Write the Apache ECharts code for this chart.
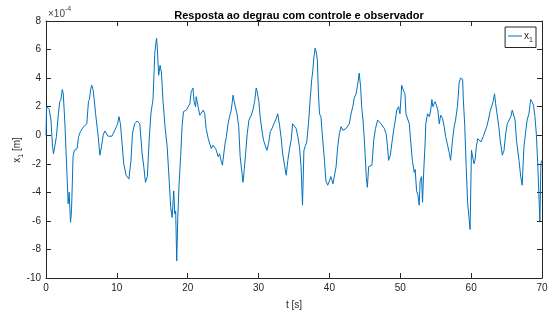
<!DOCTYPE html>
<html>
<head>
<meta charset="utf-8">
<script src="https://cdn.jsdelivr.net/npm/echarts@6/dist/echarts.min.js"></script>
<style>
  html, body { margin: 0; padding: 0; background: #fff; }
  #main { width: 548px; height: 315px; }
</style>
</head>
<body>
<div id="main"></div>
<script>
// time [s] and x1 response (in units of 1e-4 m)
let tData = [0, 0.08, 0.23, 0.46, 0.7, 0.92, 1.06, 1.24, 1.47, 1.75, 1.94, 2.1, 2.3, 2.44, 2.67, 2.9, 3.13, 3.27, 3.46, 3.6, 3.82, 4.0, 4.15, 4.38, 4.6, 4.84, 5.07, 5.3, 5.5, 5.76, 5.99, 6.13, 6.3, 6.45, 6.64, 6.8, 7.0, 7.19, 7.37, 7.6, 7.83, 8.06, 8.3, 8.5, 8.76, 8.99, 9.3, 9.7, 9.95, 10.1, 10.3, 10.5, 10.7, 10.97, 11.3, 11.5, 11.7, 12.0, 12.2, 12.5, 12.87, 13.24, 13.57, 13.8, 14.04, 14.3, 14.56, 14.8, 15.1, 15.36, 15.6, 15.7, 15.9, 16.1, 16.3, 16.5, 16.8, 17.1, 17.4, 17.6, 17.8, 18.03, 18.17, 18.3, 18.45, 18.6, 18.78, 19.0, 19.2, 19.4, 19.8, 20.05, 20.3, 20.5, 20.75, 20.9, 21.1, 21.2, 21.46, 21.7, 21.9, 22.2, 22.4, 22.6, 22.9, 23.1, 23.33, 23.57, 23.76, 23.95, 24.13, 24.3, 24.5, 24.7, 24.9, 25.07, 25.26, 25.45, 25.7, 25.9, 26.15, 26.4, 26.5, 26.76, 26.95, 27.2, 27.4, 27.65, 27.8, 27.98, 28.17, 28.4, 28.64, 28.97, 29.2, 29.44, 29.67, 29.8, 30.05, 30.2, 30.47, 30.7, 30.94, 31.17, 31.4, 31.65, 31.9, 32.16, 32.5, 32.7, 32.96, 33.2, 33.4, 33.7, 33.9, 34.13, 34.37, 34.6, 34.8, 35.07, 35.3, 35.54, 35.77, 36.0, 36.2, 36.4, 36.57, 36.8, 37.04, 37.28, 37.5, 37.65, 37.8, 37.98, 38.17, 38.3, 38.45, 38.6, 38.8, 39.06, 39.3, 39.5, 39.76, 40.0, 40.2, 40.5, 40.7, 40.94, 41.17, 41.4, 41.64, 41.9, 42.1, 42.35, 42.6, 42.8, 43.05, 43.3, 43.5, 43.76, 44.0, 44.2, 44.4, 44.55, 44.74, 44.93, 45.2, 45.35, 45.54, 45.8, 46.0, 46.25, 46.5, 46.8, 47.0, 47.3, 47.5, 47.75, 48.0, 48.2, 48.35, 48.6, 48.8, 49.06, 49.3, 49.5, 49.76, 49.95, 50.1, 50.2, 50.4, 50.66, 50.8, 51.0, 51.27, 51.5, 51.7, 51.97, 52.1, 52.3, 52.5, 52.67, 52.8, 53.0, 53.14, 53.3, 53.5, 53.6, 53.85, 54.1, 54.3, 54.46, 54.6, 54.9, 55.1, 55.3, 55.5, 55.7, 55.96, 56.2, 56.4, 56.67, 56.9, 57.1, 57.37, 57.6, 57.8, 58.07, 58.3, 58.5, 58.8, 58.9, 59.1, 59.3, 59.5, 59.7, 59.85, 60.04, 60.2, 60.4, 60.55, 60.74, 60.93, 61.16, 61.4, 61.7, 61.96, 62.2, 62.43, 62.67, 62.9, 63.1, 63.3, 63.46, 63.65, 63.9, 64.1, 64.4, 64.64, 64.87, 65.1, 65.34, 65.6, 65.8, 66.0, 66.2, 66.4, 66.75, 67.0, 67.2, 67.45, 67.7, 67.9, 68.15, 68.4, 68.6, 68.8, 69.0, 69.2, 69.4, 69.57, 69.7, 69.85, 70.0];
let x1Data = [0, 2.0, 2.0, 1.8, 1.06, -0.8, -1.3, -1.2, -0.1, 1.5, 2.35, 2.5, 3.2, 2.9, 0.8, -2.0, -4.8, -4.0, -6.1, -5.3, -1.5, -1.06, -1.06, -0.94, -0.1, 0.24, 0.1, 0.6, 0.64, 0.8, 2.35, 2.5, 3.2, 3.5, 3.2, 2.5, 1.5, 1.4, -0.1, -1.4, -0.8, 0, 0.3, 0.24, -0.07, -0.16, -0.07, 0.35, 0.6, 0.8, 1.3, 0.8, -0.35, -2.0, -2.8, -2.9, -3.06, -1.76, 0.1, 0.8, 1.0, 0.8, -1.3, -2.2, -3.3, -2.9, -0.35, 1.5, 2.5, 5.8, 6.8, 6.2, 4.2, 4.9, 4.35, 2.5, 0.6, -0.8, -3.3, -5.06, -5.76, -3.9, -5.5, -5.3, -8.8, -5.8, -3.4, -1.5, 0.6, 1.65, 1.76, 1.9, 2.2, 3.06, 3.3, 2.35, 2.0, 2.7, 2.8, 1.4, 1.3, 1.76, 1.5, 0.47, -0.24, -0.35, -0.94, -0.7, -0.6, -0.94, -1.06, -1.5, -1.3, -1.76, -2.1, -2.1, -0.6, -0.1, 0.8, 1.3, 1.76, 2.8, 2.5, 1.9, 1.5, 0.6, -1.5, -2.6, -3.3, -2.4, -1.3, 0.1, 1.06, 1.4, 1.76, 2.35, 3.3, 3.06, 2.35, 1.4, 0.35, -0.35, -0.47, -1.06, -0.6, 0.24, 0.47, 0.8, 1.18, 1.5, 0.7, -0.24, -1.3, -2.2, -2.8, -1.76, -0.94, -0.35, 0.8, 0.7, 0.47, -0.1, -0.8, -2.2, -4.9, -1.06, -0.8, -0.47, 0.8, 2.5, 3.9, 4.5, 5.4, 6.1, 5.76, 5.2, 2.9, 1.5, 1.3, -0.35, -1.76, -3.2, -3.5, -3.2, -2.9, -3.4, -3.5, -2.2, -0.8, 0.1, 0.6, 0.35, 0.24, 0.47, 0.6, 0.8, 1.5, 2.0, 2.6, 2.9, 3.6, 4.35, 3.4, 2.0, 1.06, -0.35, -2.9, -3.65, -2.2, -2.2, -2.1, -0.35, 0.47, 1.06, 0.94, 0.8, 0.7, 0.47, 0.1, -0.8, -1.76, -1.4, -0.6, 0.35, 1.06, 1.76, 2.0, 1.5, 2.6, 3.5, 3.2, 2.9, 1.5, 1.4, 0.8, -0.6, -1.76, -2.6, -2.4, -3.9, -4.2, -4.9, -3.2, -2.9, -4.7, -2.6, -0.6, 0.8, 1.5, 1.3, 1.76, 2.5, 2.0, 2.35, 2.1, 1.76, 0.8, 1.4, 1.18, 0.6, -0.1, -0.7, -1.2, -1.76, -0.35, 0.6, 1.06, 2.0, 3.65, 4.0, 3.9, 2.5, 0.6, -2.2, -4.7, -4.6, -6.6, -1.06, -0.94, -2.0, -1.76, -0.8, -0.24, -0.35, -0.47, -0.1, -0.1, 0.6, 1.06, 1.65, 1.76, 2.35, 2.9, 2.2, 1.5, 0.6, -0.35, -1.4, -1.06, 0.1, 0.8, 0.94, 1.3, 1.76, 1.9, 1.06, -0.35, -1.76, -2.9, -3.5, -0.8, 0.24, 1.06, 1.5, 2.5, 2.35, 2.1, 1.3, 0.1, -2.0, -2.0, -6.0, -2.0, -1.76];
let xTicks = { min: 0, max: 70, interval: 10 };
let yTicks = { min: -10, max: 8, interval: 2 };

let points = tData.map(function (t, i) { return [t, x1Data[i]]; });

let dom = document.getElementById("main");
let myChart = echarts.init(dom);
let axisColor = '#262626';
let font = 'Liberation Sans, Arial, sans-serif';

let baseX = {
    type: 'value',
    min: xTicks.min, max: xTicks.max, interval: xTicks.interval,
    axisLine: { show: true, onZero: false, lineStyle: { color: axisColor, width: 1 } },
    axisTick: { show: true, inside: true, length: 5, lineStyle: { color: axisColor } },
    splitLine: { show: false }
};
let baseY = {
    type: 'value',
    min: yTicks.min, max: yTicks.max, interval: yTicks.interval,
    axisLine: { show: true, onZero: false, lineStyle: { color: axisColor, width: 1 } },
    axisTick: { show: true, inside: true, length: 5, lineStyle: { color: axisColor } },
    splitLine: { show: false }
};

let option = {
    animation: false,
    backgroundColor: '#fff',
    textStyle: { fontFamily: font },
    title: {
        text: 'Resposta ao degrau com controle e observador',
        left: 294,
        textAlign: 'center',
        top: 5,
        textStyle: { fontSize: 11, fontWeight: 'bold', color: '#000', fontFamily: font }
    },
    grid: { left: 46, right: 6, top: 21, bottom: 37, containLabel: false, outerBoundsMode: 'none' },
    legend: {
        right: 12,
        top: 27,
        padding: [4, 3, 4, 3],
        borderColor: axisColor,
        borderWidth: 1,
        backgroundColor: '#fff',
        itemWidth: 14,
        itemHeight: 1,
        itemGap: 2,
        icon: 'rect',
        data: [{ name: 'x1', icon: 'rect' }],
        formatter: function () { return '{a|x}{b|1}'; },
        textStyle: {
            color: axisColor,
            padding: [0, 0, 0, -3],
            rich: {
                a: { fontSize: 10, fontFamily: font, color: axisColor },
                b: { fontSize: 7, fontFamily: font, color: axisColor, padding: [8, 0, 0, 0] }
            }
        }
    },
    xAxis: [
        Object.assign({}, baseX, {
            position: 'bottom',
            name: 't [s]',
            nameLocation: 'middle',
            nameGap: 22,
            nameTextStyle: { fontSize: 10, color: axisColor, fontFamily: font },
            axisLabel: { fontSize: 10, color: axisColor, margin: 5, fontFamily: font }
        }),
        Object.assign({}, baseX, { position: 'top', axisLabel: { show: false } })
    ],
    yAxis: [
        Object.assign({}, baseY, {
            position: 'left',
            axisLabel: { fontSize: 10, color: axisColor, margin: 5, fontFamily: font }
        }),
        Object.assign({}, baseY, { position: 'right', axisLabel: { show: false } })
    ],
    graphic: [{
        type: 'text',
        left: 48,
        top: 6,
        style: {
            text: '{a|×10}{b|-4}',
            rich: {
                a: { fontSize: 10, fontFamily: font, fill: '#444', padding: [4, 0, 0, 0] },
                b: { fontSize: 7, fontFamily: font, fill: '#444', padding: [0, 0, 6, 0] }
            }
        }
    }, {
        type: 'text',
        x: 17,
        y: 150,
        rotation: Math.PI / 2,
        style: {
            text: '{a|x}{b|1}{a| [m]}',
            align: 'center',
            verticalAlign: 'middle',
            rich: {
                a: { fontSize: 10, fontFamily: font, fill: axisColor },
                b: { fontSize: 7, fontFamily: font, fill: axisColor, padding: [8, 0, 0, 0] }
            }
        }
    }],
    series: [{
        name: 'x1',
        type: 'line',
        data: points,
        showSymbol: false,
        symbol: 'none',
        lineStyle: { color: '#0072BD', width: 1 },
        itemStyle: { color: '#0072BD' }
    }]
};

myChart.setOption(option, true);
window.addEventListener("resize", function () {
    myChart.resize();
});
</script>
</body>
</html>
